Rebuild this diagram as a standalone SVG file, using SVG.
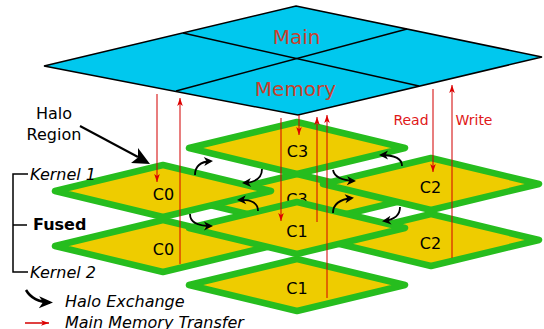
<svg xmlns="http://www.w3.org/2000/svg" width="544" height="329" viewBox="0 0 544 329">
<style>
text{font-family:"DejaVu Sans","Liberation Sans",sans-serif}
.mem{fill:#00c8ee;stroke:#000;stroke-width:1.5;stroke-linejoin:miter}
.grid{stroke:#000;stroke-width:1.5;fill:none}
.tile{fill:#eecc00;stroke:#26bd1e;stroke-width:6.5;stroke-linejoin:round}
.lbl{font-size:16px;fill:#000;text-anchor:middle}
.memtxt{font-size:20px;fill:#c8402c;text-anchor:middle}
.rw{font-size:14px;fill:#e01818;text-anchor:middle}
.red{stroke:#d40000;stroke-opacity:0.78;stroke-width:1.3;fill:none}
.halo{stroke:#000;stroke-width:1.8;fill:none}
.it{font-size:16px;font-style:italic}
</style>
<defs>
<marker id="rh" viewBox="-8 -3 9 6" refX="0" refY="0" markerWidth="9" markerHeight="6" orient="auto" markerUnits="userSpaceOnUse">
<path d="M0,0 L-8,-2.8 L-6,0 L-8,2.8 Z" fill="#dd0000"/>
</marker>
<marker id="hh" viewBox="-10 -5 12 10" refX="-2" refY="0" markerWidth="12" markerHeight="10" orient="auto" markerUnits="userSpaceOnUse">
<path d="M0,0 L-9,-4.5 L-6.5,0 L-9,4.5 Z" fill="#000"/>
</marker>
<marker id="hb" viewBox="-16 -7 18 14" refX="-3" refY="0" markerWidth="18" markerHeight="14" orient="auto" markerUnits="userSpaceOnUse">
<path d="M0,0 L-14,-6 L-10,0 L-14,6 Z" fill="#000"/>
</marker>
</defs>

<g id="main-memory">
<polygon class="mem" points="296,6 542,57 298,115 44,66"/>
<path class="grid" d="M183,33 L419,86 M176,91 L407,29"/>
<text class="memtxt" x="296.5" y="44">Main</text>
<text class="memtxt" x="295.5" y="96">Memory</text>
</g>

<g id="kernel2">
<g id="c3-k2"><polygon class="tile" points="189,200 297,174 405,200 297,226"/><text class="lbl" x="297" y="204.5">C3</text></g>
<g id="c0-k2"><polygon class="tile" points="55,246 163,220 271,246 163,272"/><text class="lbl" x="163.5" y="255">C0</text></g>
<g id="c2-k2"><polygon class="tile" points="323,240 431,214 539,240 431,266"/><text class="lbl" x="430.5" y="249">C2</text></g>
<g id="c1-k2"><polygon class="tile" points="189,285 297,259 405,285 297,311"/><text class="lbl" x="297" y="294">C1</text></g>
</g>

<g id="kernel1">
<g id="c3-k1"><polygon class="tile" points="189,148 297,122 405,148 297,174"/><text class="lbl" x="297.5" y="157">C3</text></g>
<g id="c0-k1"><polygon class="tile" points="55,191 163,165 271,191 163,217"/><text class="lbl" x="163.5" y="200">C0</text></g>
<g id="c2-k1"><polygon class="tile" points="323,184 431,158 539,184 431,210"/><text class="lbl" x="430.5" y="193">C2</text></g>
<g id="c1-k1"><polygon class="tile" points="189,228 297,202 405,228 297,254"/><text class="lbl" x="297" y="237">C1</text></g>
</g>

<g id="connectors">
<line class="red" x1="157" y1="94" x2="157" y2="182" marker-end="url(#rh)"/>
<line class="red" x1="180" y1="264" x2="180" y2="98" marker-end="url(#rh)"/>
<line class="red" x1="299" y1="115" x2="299" y2="135" marker-end="url(#rh)"/>
<line class="red" x1="281" y1="118" x2="281" y2="221" marker-end="url(#rh)"/>
<line class="red" x1="317" y1="222" x2="317" y2="117" marker-end="url(#rh)"/>
<line class="red" x1="327" y1="298" x2="327" y2="115" marker-end="url(#rh)"/>
<line class="red" x1="433" y1="89" x2="433" y2="172" marker-end="url(#rh)"/>
<line class="red" x1="452" y1="258" x2="452" y2="85" marker-end="url(#rh)"/>
<path class="halo" d="M195,175 Q195,162 211,161" marker-end="url(#hh)"/>
<path class="halo" d="M262,169 Q262,182 244,183" marker-end="url(#hh)"/>
<path class="halo" d="M258,211 Q258,199 239,200" marker-end="url(#hh)"/>
<path class="halo" d="M190,214 Q190,226 211,226" marker-end="url(#hh)"/>
<path class="halo" d="M402,166 Q402,155 381,155" marker-end="url(#hh)"/>
<path class="halo" d="M333,170 Q335,180 354,181" marker-end="url(#hh)"/>
<path class="halo" d="M333,213 Q333,200 352,198" marker-end="url(#hh)"/>
<path class="halo" d="M400,207 Q400,219 384,221" marker-end="url(#hh)"/>
<path d="M80,126 L138,157" stroke="#000" stroke-width="2" fill="none"/>
<polygon points="150,164 131,163 138,157.5 138,148" fill="#000"/>
</g>

<g id="labels">
<text class="rw" x="411" y="125">Read</text>
<text class="rw" x="474" y="125">Write</text>
<text x="54" y="119" font-size="16" text-anchor="middle">Halo</text>
<text x="54" y="140" font-size="16" text-anchor="middle">Region</text>
<path d="M28,174 H13 V272 H28 M13,225 H27" stroke="#000" stroke-width="1.5" fill="none"/>
<text class="it" x="30" y="180">Kernel 1</text>
<text x="33" y="230" font-size="16" font-weight="bold">Fused</text>
<text class="it" x="30" y="278">Kernel 2</text>
</g>

<g id="legend">
<path d="M26,290 Q33,302 50,302.5" stroke="#000" stroke-width="2.5" fill="none" marker-end="url(#hb)"/>
<text class="it" x="65" y="307">Halo Exchange</text>
<line x1="25" y1="323" x2="49" y2="323" stroke="#d40000" stroke-width="1.5" marker-end="url(#rh)"/>
<text class="it" x="65" y="327.5">Main Memory Transfer</text>
</g>
</svg>
